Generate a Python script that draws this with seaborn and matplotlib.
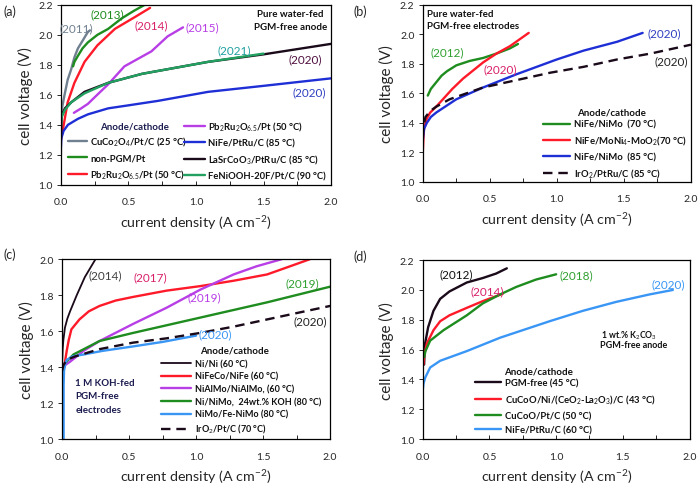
import numpy as np
import pandas as pd
import seaborn as sns
import matplotlib.pyplot as plt
from matplotlib.ticker import MultipleLocator

# ---------------- data ----------------
# (a) pure water-fed, PGM-free anode
a_cuco_x = [0.0, 0.002, 0.01, 0.027, 0.05, 0.076, 0.1, 0.126, 0.16, 0.2, 0.215]
a_cuco_y = [1.20, 1.44, 1.52, 1.60, 1.70, 1.77, 1.85, 1.91, 1.96, 2.02, 2.03]
a_npgm_x = [0.09, 0.1, 0.126, 0.16, 0.2, 0.27, 0.35, 0.45, 0.54, 0.62]
a_npgm_y = [1.79, 1.82, 1.86, 1.91, 1.95, 2.0, 2.04, 2.11, 2.16, 2.2]
a_pbru1_x = [0.0, 0.015, 0.05, 0.1, 0.175, 0.27, 0.40, 0.55, 0.66]
a_pbru1_y = [1.30, 1.37, 1.55, 1.68, 1.82, 1.93, 2.04, 2.12, 2.18]
a_pbru2_x = [0.096, 0.15, 0.2, 0.28, 0.35, 0.47, 0.57, 0.67, 0.79, 0.904]
a_pbru2_y = [1.48, 1.51, 1.54, 1.61, 1.67, 1.79, 1.84, 1.89, 1.99, 2.05]
a_nife_x = [0.0, 0.003, 0.02, 0.052, 0.126, 0.2, 0.35, 0.5, 0.72, 1.09, 1.5, 2.0]
a_nife_y = [1.25, 1.31, 1.36, 1.40, 1.44, 1.47, 1.51, 1.53, 1.56, 1.62, 1.66, 1.71]
a_lsco_x = [0.0, 0.005, 0.03, 0.076, 0.175, 0.35, 0.6, 1.09, 1.5, 2.0]
a_lsco_y = [1.30, 1.46, 1.51, 1.55, 1.62, 1.68, 1.74, 1.82, 1.87, 1.94]
a_fenio_x = [0.0, 0.005, 0.03, 0.076, 0.175, 0.35, 0.6, 1.09, 1.5]
a_fenio_y = [1.40, 1.45, 1.50, 1.55, 1.61, 1.68, 1.74, 1.82, 1.875]

# (b) pure water-fed, PGM-free electrodes
b_nimo70_x = [0.037, 0.06, 0.1, 0.14, 0.18, 0.25, 0.35, 0.45, 0.55, 0.65, 0.71]
b_nimo70_y = [1.585, 1.63, 1.675, 1.72, 1.75, 1.79, 1.82, 1.84, 1.87, 1.905, 1.935]
b_moni_x = [0.0, 0.005, 0.01, 0.03, 0.055, 0.1, 0.15, 0.22, 0.30, 0.45, 0.55, 0.65, 0.79]
b_moni_y = [1.20, 1.30, 1.37, 1.43, 1.47, 1.51, 1.56, 1.63, 1.70, 1.81, 1.87, 1.92, 2.01]
b_nimo85_x = [0.0, 0.005, 0.01, 0.03, 0.06, 0.1, 0.15, 0.25, 0.45, 0.7, 1.0, 1.2, 1.45, 1.64]
b_nimo85_y = [1.28, 1.33, 1.36, 1.40, 1.44, 1.47, 1.50, 1.56, 1.64, 1.73, 1.83, 1.89, 1.95, 2.01]
b_iro2_x = [0.0, 0.005, 0.02, 0.055, 0.1, 0.2, 0.45, 0.7, 0.95, 1.2, 1.45, 1.7, 2.0]
b_iro2_y = [1.30, 1.38, 1.44, 1.48, 1.51, 1.56, 1.64, 1.69, 1.74, 1.78, 1.83, 1.87, 1.93]

# (c) 1 M KOH-fed, PGM-free electrodes
c_nini_x = [0.0, 0.005, 0.01, 0.022, 0.04, 0.06, 0.11, 0.17, 0.25]
c_nini_y = [1.40, 1.50, 1.55, 1.62, 1.67, 1.71, 1.80, 1.90, 2.0]
c_nifeco_x = [0.0, 0.01, 0.02, 0.035, 0.05, 0.07, 0.13, 0.2, 0.28, 0.4, 0.53, 0.78, 1.03, 1.28, 1.53, 1.7, 1.85]
c_nifeco_y = [1.30, 1.38, 1.42, 1.49, 1.55, 1.61, 1.665, 1.71, 1.74, 1.77, 1.79, 1.825, 1.85, 1.88, 1.915, 1.96, 2.0]
c_nialmo_x = [0.0, 0.02, 0.06, 0.16, 0.28, 0.53, 0.78, 1.03, 1.28, 1.45, 1.64]
c_nialmo_y = [1.38, 1.41, 1.43, 1.49, 1.545, 1.64, 1.73, 1.83, 1.915, 1.96, 2.0]
c_ninimo_x = [0.0, 0.01, 0.02, 0.085, 0.28, 0.53, 1.03, 1.53, 2.0]
c_ninimo_y = [1.33, 1.39, 1.42, 1.47, 1.545, 1.59, 1.675, 1.76, 1.847]
c_fenimo_x = [0.012, 0.012, 0.015, 0.025, 0.035, 0.08, 0.16, 0.3, 0.53, 0.75, 1.0]
c_fenimo_y = [1.0, 1.30, 1.38, 1.42, 1.44, 1.46, 1.47, 1.49, 1.515, 1.54, 1.575]
c_iro2_x = [0.0, 0.01, 0.035, 0.1, 0.28, 0.53, 0.78, 1.03, 1.28, 1.53, 1.78, 2.0]
c_iro2_y = [1.38, 1.41, 1.44, 1.46, 1.50, 1.536, 1.56, 1.59, 1.625, 1.665, 1.705, 1.74]

# (d) 1 wt.% K2CO3, PGM-free anode
d_pgmf_x = [0.01, 0.012, 0.017, 0.04, 0.08, 0.13, 0.2, 0.33, 0.45, 0.55, 0.63]
d_pgmf_y = [1.50, 1.55, 1.64, 1.75, 1.86, 1.94, 1.99, 2.05, 2.08, 2.11, 2.145]
d_cuceo_x = [0.005, 0.01, 0.03, 0.08, 0.13, 0.2, 0.33, 0.45, 0.6]
d_cuceo_y = [1.50, 1.56, 1.64, 1.73, 1.79, 1.83, 1.88, 1.925, 1.975]
d_cupt_x = [0.01, 0.02, 0.055, 0.155, 0.33, 0.45, 0.58, 0.7, 0.85, 1.0]
d_cupt_y = [1.55, 1.59, 1.66, 1.73, 1.83, 1.91, 1.97, 2.02, 2.07, 2.105]
d_nife_x = [0.0, 0.005, 0.017, 0.055, 0.13, 0.33, 0.58, 0.95, 1.2, 1.45, 1.7, 1.875]
d_nife_y = [1.33, 1.37, 1.41, 1.48, 1.525, 1.59, 1.68, 1.79, 1.86, 1.92, 1.97, 2.0]

a_labels = ['CuCo$_2$O$_4$/Pt/C (25 °C)', 'non-PGM/Pt', 'Pb$_2$Ru$_2$O$_{6.5}$/Pt (50 °C)',
            'Pb$_2$Ru$_2$O$_{6.5}$/Pt (50 °C)', 'NiFe/PtRu/C (85 °C)',
            'LaSrCoO$_3$/PtRu/C (85 °C)', 'FeNiOOH-20F/Pt/C (90 °C)']
b_labels = ['NiFe/NiMo  (70 °C)', 'NiFe/MoNi$_4$-MoO$_2$(70 °C)', 'NiFe/NiMo  (85 °C)',
            'IrO$_2$/PtRu/C (85 °C)']
c_labels = ['Ni/Ni (60 °C)', 'NiFeCo/NiFe (60 °C)', 'NiAlMo/NiAlMo, (60 °C)',
            'Ni/NiMo,  24wt.% KOH (80 °C)', 'NiMo/Fe-NiMo (80 °C)', 'IrO$_2$/Pt/C (70 °C)']
d_labels = ['PGM-free (45 °C)', 'CuCoO/Ni/(CeO$_2$-La$_2$O$_3$)/C (43 °C)',
            'CuCoO/Pt/C (50 °C)', 'NiFe/PtRu/C (60 °C)']

# colours
GREY = '#708090'
GREEN = '#1e8c1e'
RED = '#ff1a2a'
MAGENTA = '#b83ee6'
BLUE = '#1f2fd6'
DARK = '#1a0a1a'
TEAL = '#22a060'
LBLUE = '#3a96f5'
PINK = '#d8206a'
NAVY = '#1c1c50'

sns.set_theme(style='ticks')
plt.rcParams['font.family'] = ['Lato', 'DejaVu Sans']
plt.rcParams['mathtext.fontset'] = 'custom'
plt.rcParams['mathtext.rm'] = 'Lato'
plt.rcParams['mathtext.it'] = 'Lato:italic'
plt.rcParams['mathtext.bf'] = 'Lato:bold'

fig = plt.figure(figsize=(7, 4.89), dpi=100)
ax_a = fig.add_axes([0.087, 0.620, 0.386, 0.368])
ax_b = fig.add_axes([0.604, 0.626, 0.383, 0.362])
ax_c = fig.add_axes([0.0886, 0.100, 0.383, 0.368])
ax_d = fig.add_axes([0.604, 0.100, 0.381, 0.366])


def draw(ax, x, y, color, ls='-', lw=1.7):
    sns.lineplot(x=x, y=y, ax=ax, color=color, linestyle=ls, linewidth=lw,
                 estimator=None, sort=False)
    return ax.lines[-1]


def style(ax, ymax):
    ax.set_xlim(0, 2.0)
    ax.set_ylim(1.0, ymax)
    ax.xaxis.set_major_locator(MultipleLocator(0.5))
    ax.xaxis.set_minor_locator(MultipleLocator(0.25))
    ax.yaxis.set_major_locator(MultipleLocator(0.2))
    ax.xaxis.set_major_formatter(plt.FormatStrFormatter('%.1f'))
    ax.yaxis.set_major_formatter(plt.FormatStrFormatter('%.1f'))
    for s in ax.spines.values():
        s.set_linewidth(0.9)
        s.set_color('black')
    ax.tick_params(axis='x', which='both', direction='in', length=3, width=0.7,
                   labelsize=7.5, pad=9)
    ax.tick_params(axis='y', which='both', direction='out', length=3, width=0.7,
                   labelsize=7.5, pad=3)
    ax.set_xlabel('current density (A cm$^{-2}$)', fontsize=10.3, labelpad=5)
    ax.set_ylabel('cell voltage (V)', fontsize=11, labelpad=4)


def legend(ax, handles, labels, x, y, hl, fs=6.8, sp=0.45):
    leg = ax.legend(handles, labels, loc='upper left', bbox_to_anchor=(x, y),
                    bbox_transform=ax.transData, frameon=False,
                    handlelength=hl, handletextpad=0.4, labelspacing=sp,
                    borderpad=0, borderaxespad=0,
                    prop={'weight': 'bold', 'size': fs})
    for t in leg.get_texts():
        t.set_color('#111111')
    return leg


def year(ax, x, y, txt, color):
    ax.text(x, y, txt, color=color, fontsize=8.5, ha='center', va='center')


# ---------------- (a) ----------------
la = [draw(ax_a, a_cuco_x, a_cuco_y, GREY),
      draw(ax_a, a_npgm_x, a_npgm_y, GREEN),
      draw(ax_a, a_pbru1_x, a_pbru1_y, RED),
      draw(ax_a, a_pbru2_x, a_pbru2_y, MAGENTA),
      draw(ax_a, a_nife_x, a_nife_y, BLUE),
      draw(ax_a, a_lsco_x, a_lsco_y, DARK),
      draw(ax_a, a_fenio_x, a_fenio_y, TEAL)]
style(ax_a, 2.2)
leg1 = legend(ax_a, la[:3], a_labels[:3], 0.05, 1.335, 2.0, sp=0.6)
ax_a.add_artist(leg1)
legend(ax_a, la[3:], a_labels[3:], 0.91, 1.435, 2.2, sp=0.6)
ax_a.text(0.29, 1.393, 'Anode/cathode', fontsize=7, weight='bold', color=NAVY, va='center')
ax_a.text(1.70, 2.10, 'Pure water-fed\nPGM-free anode', fontsize=7, weight='bold',
          color='#111111', ha='center', va='center', linespacing=1.5)
year(ax_a, 0.116, 2.05, '(2011)', GREY)
year(ax_a, 0.34, 2.14, '(2013)', GREEN)
year(ax_a, 0.67, 2.07, '(2014)', PINK)
year(ax_a, 1.05, 2.055, '(2015)', MAGENTA)
year(ax_a, 1.28, 1.90, '(2021)', '#20a0a0')
year(ax_a, 1.81, 1.84, '(2020)', '#501040')
year(ax_a, 1.84, 1.62, '(2020)', '#3040c0')

# ---------------- (b) ----------------
lb = [draw(ax_b, b_nimo70_x, b_nimo70_y, GREEN),
      draw(ax_b, b_moni_x, b_moni_y, RED),
      draw(ax_b, b_nimo85_x, b_nimo85_y, BLUE),
      draw(ax_b, b_iro2_x, b_iro2_y, DARK, ls=(0, (4, 2.5)))]
style(ax_b, 2.2)
legend(ax_b, lb, b_labels, 0.895, 1.42, 2.9, sp=0.55)
ax_b.text(1.15, 1.475, 'Anode/cathode', fontsize=7, weight='bold', color='#111111', va='center')
ax_b.text(0.035, 2.10, 'Pure water-fed\nPGM-free electrodes', fontsize=7, weight='bold',
          color='#111111', ha='left', va='center', linespacing=1.5)
year(ax_b, 0.18, 1.885, '(2012)', '#30a030')
year(ax_b, 0.58, 1.765, '(2020)', PINK)
year(ax_b, 1.80, 2.01, '(2020)', '#3040c0')
year(ax_b, 1.85, 1.82, '(2020)', '#222222')

# ---------------- (c) ----------------
lc = [draw(ax_c, c_nini_x, c_nini_y, DARK, lw=1.3),
      draw(ax_c, c_nifeco_x, c_nifeco_y, RED),
      draw(ax_c, c_nialmo_x, c_nialmo_y, MAGENTA),
      draw(ax_c, c_ninimo_x, c_ninimo_y, GREEN),
      draw(ax_c, c_fenimo_x, c_fenimo_y, LBLUE),
      draw(ax_c, c_iro2_x, c_iro2_y, DARK, ls=(0, (4, 2.5)))]
style(ax_c, 2.0)
legend(ax_c, lc, c_labels, 0.74, 1.445, 3.3, fs=6.5, sp=0.4)
ax_c.text(1.03, 1.494, 'Anode/cathode', fontsize=7, weight='bold', color='#111111', va='center')
ax_c.text(0.10, 1.24, '1 M KOH-fed\nPGM-free\nelectrodes', fontsize=7, weight='bold',
          color=NAVY, ha='left', va='center', linespacing=1.6)
year(ax_c, 0.32, 1.915, '(2014)', '#404040')
year(ax_c, 0.657, 1.90, '(2017)', PINK)
year(ax_c, 1.06, 1.79, '(2019)', MAGENTA)
year(ax_c, 1.79, 1.87, '(2019)', '#30a030')
year(ax_c, 1.85, 1.66, '(2020)', '#222222')
year(ax_c, 1.14, 1.586, '(2020)', LBLUE)

# ---------------- (d) ----------------
ld = [draw(ax_d, d_pgmf_x, d_pgmf_y, DARK),
      draw(ax_d, d_cuceo_x, d_cuceo_y, RED),
      draw(ax_d, d_cupt_x, d_cupt_y, GREEN),
      draw(ax_d, d_nife_x, d_nife_y, LBLUE)]
style(ax_d, 2.2)
legend(ax_d, ld, d_labels, 0.39, 1.405, 2.8, sp=0.55)
ax_d.text(0.608, 1.458, 'Anode/cathode', fontsize=7, weight='bold', color='#111111', va='center')
ax_d.text(1.34, 1.70, '1 wt.% K$_2$CO$_3$', fontsize=6.2, weight='bold', color='#111111',
          ha='left', va='center')
ax_d.text(1.33, 1.635, 'PGM-free anode', fontsize=6.5, weight='bold', color='#111111',
          ha='left', va='center')
year(ax_d, 0.254, 2.106, '(2012)', '#111111')
year(ax_d, 0.48, 1.995, '(2014)', PINK)
year(ax_d, 1.15, 2.10, '(2018)', '#30a030')
year(ax_d, 1.84, 2.04, '(2020)', LBLUE)

# panel letters
for lab, (px, py) in zip(['(a)', '(b)', '(c)', '(d)'],
                         [(3, 12), (354, 12), (3, 255), (354, 257)]):
    fig.text(px / 700, 1 - py / 489, lab, fontsize=9, va='center', ha='left')

fig.savefig('out.png', dpi=100)
